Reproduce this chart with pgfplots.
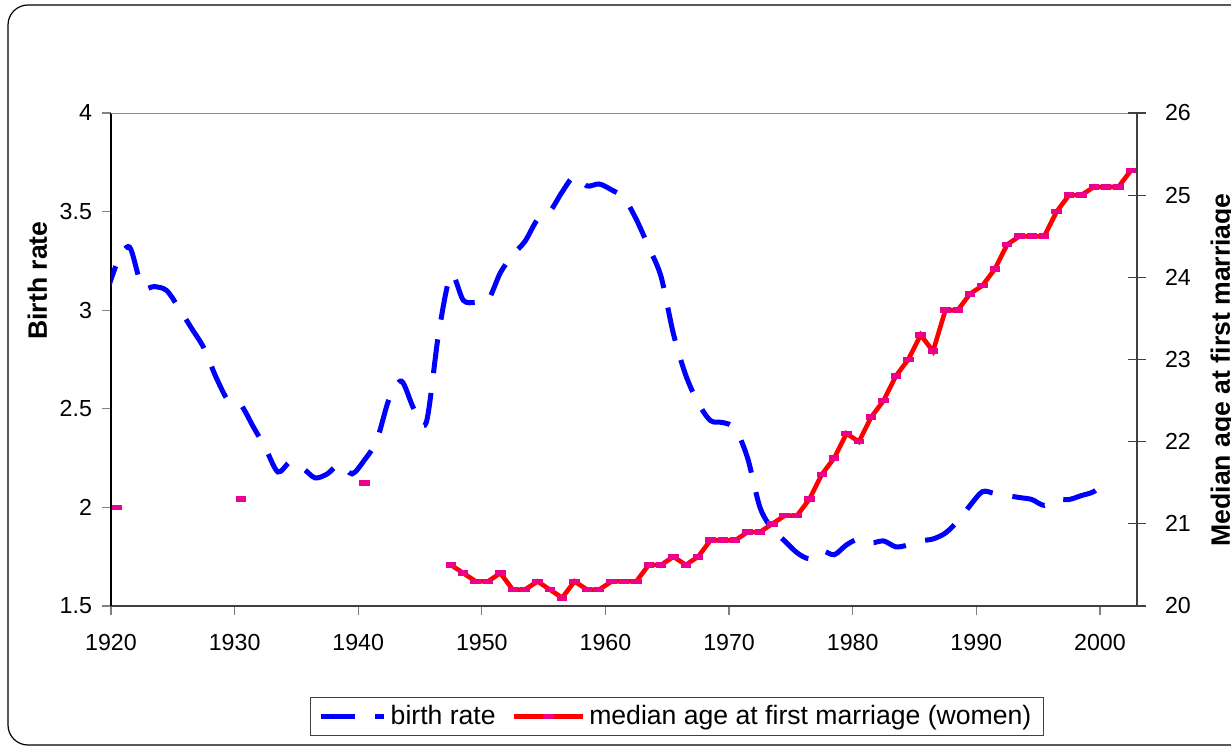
\documentclass[border=0pt]{standalone}
\usepackage{fontspec}
\setmainfont{Liberation Sans}
\usepackage{pgfplots}
\usepackage{pgfplotstable}
\pgfplotsset{compat=1.18}

\definecolor{axisgray}{HTML}{404040}
\definecolor{framegray}{HTML}{8C8C8C}

% birth rate, one value per year (1919 only sets the clipped left end)
\pgfplotstableread{
year br
1919 3.06
1920 3.24
1921 3.32
1922 3.12
1923 3.12
1924 3.10
1925 3.01
1926 2.91
1927 2.81
1928 2.66
1929 2.54
1930 2.52
1931 2.41
1932 2.30
1933 2.18
1934 2.23
1935 2.20
1936 2.15
1937 2.17
1938 2.22
1939 2.17
1940 2.24
1941 2.34
1942 2.55
1943 2.64
1944 2.50
1945 2.43
1946 2.88
1947 3.18
1948 3.05
1949 3.04
1950 3.05
1951 3.19
1952 3.28
1953 3.35
1954 3.46
1955 3.50
1956 3.60
1957 3.68
1958 3.63
1959 3.64
1960 3.61
1961 3.57
1962 3.46
1963 3.32
1964 3.17
1965 2.88
1966 2.67
1967 2.53
1968 2.44
1969 2.43
1970 2.40
1971 2.25
1972 2.00
1973 1.89
1974 1.83
1975 1.77
1976 1.74
1977 1.78
1978 1.76
1979 1.81
1980 1.84
1981 1.82
1982 1.83
1983 1.80
1984 1.81
1985 1.83
1986 1.84
1987 1.87
1988 1.93
1989 2.01
1990 2.08
1991 2.07
1992 2.06
1993 2.05
1994 2.04
1995 2.01
1996 2.04
1997 2.04
1998 2.06
1999 2.08
2000 2.13
}\birthtab

% median age at first marriage (women); nan breaks the line
\pgfplotstableread{
year age
1920 21.2
1921 nan
1930 21.3
1931 nan
1940 21.5
1941 nan
1947 20.5
1948 20.4
1949 20.3
1950 20.3
1951 20.4
1952 20.2
1953 20.2
1954 20.3
1955 20.2
1956 20.1
1957 20.3
1958 20.2
1959 20.2
1960 20.3
1961 20.3
1962 20.3
1963 20.5
1964 20.5
1965 20.6
1966 20.5
1967 20.6
1968 20.8
1969 20.8
1970 20.8
1971 20.9
1972 20.9
1973 21.0
1974 21.1
1975 21.1
1976 21.3
1977 21.6
1978 21.8
1979 22.1
1980 22.0
1981 22.3
1982 22.5
1983 22.8
1984 23.0
1985 23.3
1986 23.1
1987 23.6
1988 23.6
1989 23.8
1990 23.9
1991 24.1
1992 24.4
1993 24.5
1994 24.5
1995 24.5
1996 24.8
1997 25.0
1998 25.0
1999 25.1
2000 25.1
2001 25.1
2002 25.3
}\agetab

\pgfplotsset{
  common/.style={
    at={(55.5pt,70pt)}, anchor=south west,
    scale only axis, width=513pt, height=246.5pt,
    xmin=1920, xmax=2003,
    ticklabel style={font=\fontsize{11.6}{14}\selectfont},
    /pgf/number format/assume math mode=true,
    tick style={line width=0.6pt},
  },
  brlegend/.style={legend image code/.code={\draw[##1] (0pt,0pt) -- (31.5pt,0pt);}},
  agelegend/.style={legend image code/.code={\draw[mark repeat=2,mark phase=2,##1] plot coordinates {(0pt,0pt) (17.25pt,0pt) (34.5pt,0pt)};}},
}

\begin{document}
\begin{tikzpicture}
\draw[black, line width=0.6pt, rounded corners=10pt] (4pt,0.5pt) rectangle (640pt,370.5pt);

\begin{axis}[common,
  ymin=1.5, ymax=4,
  axis x line*=bottom, axis y line*=left,
  x axis line style={-,axisgray,line width=0.6pt},
  y axis line style={-,black,line width=0.6pt},
  xtick={1920,1930,...,2000},
  x tick label style={/pgf/number format/1000 sep={}, yshift=-6pt},
  y tick label style={xshift=-1.5pt},
  ytick={1.5,2,2.5,3,3.5,4},
  tick align=outside, major tick length=4.5pt,
  ylabel={\bfseries Birth rate},
  ylabel style={font=\fontsize{13.3}{16}\selectfont, at={(axis description cs:-0.0624,0.66)}, anchor=base},
]
\draw[framegray, line width=0.8pt] (rel axis cs:0,1) -- (rel axis cs:1,1);
\addplot[blue, line width=2.5pt, dash pattern=on 17pt off 10pt, smooth, tension=0.5]
  table[x expr=\thisrow{year}+0.5, y=br] {\birthtab};
\end{axis}

\begin{axis}[common,
  ymin=20, ymax=26,
  axis x line=none, axis y line*=right,
  y axis line style={-,axisgray,line width=0.6pt},
  ytick={20,21,...,26},
  y tick label style={xshift=6pt},
  tick align=center, major tick length=9pt,
  ytick style={axisgray},
  ylabel={\bfseries Median age at first marriage},
  ylabel style={font=\fontsize{13.3}{16}\selectfont, at={(axis description cs:1.0906,0.479)}, anchor=base},
  legend columns=2,
  legend style={at={(axis description cs:0.5517,-0.224)}, anchor=center,
    draw=axisgray, line width=0.6pt, font=\fontsize{13.3}{16}\selectfont,
    inner xsep=4pt, inner ysep=2pt,
    /tikz/every even column/.append style={column sep=6pt}},
]
\addlegendimage{blue, line width=2.5pt, dash pattern=on 17pt off 10pt, brlegend}
\addlegendentry{birth rate}
\addplot[red, line width=2.3pt, unbounded coords=jump,
  mark=-, mark size=2.6pt, mark options={draw=magenta, line width=2.8pt, solid},
  agelegend]
  table[x expr=\thisrow{year}+0.5, y=age] {\agetab};
\addlegendentry{median age at first marriage (women)}
\end{axis}

\pgfresetboundingbox
\path[use as bounding box] (0pt,0pt) rectangle (615.5pt,373pt);
\end{tikzpicture}
\end{document}
